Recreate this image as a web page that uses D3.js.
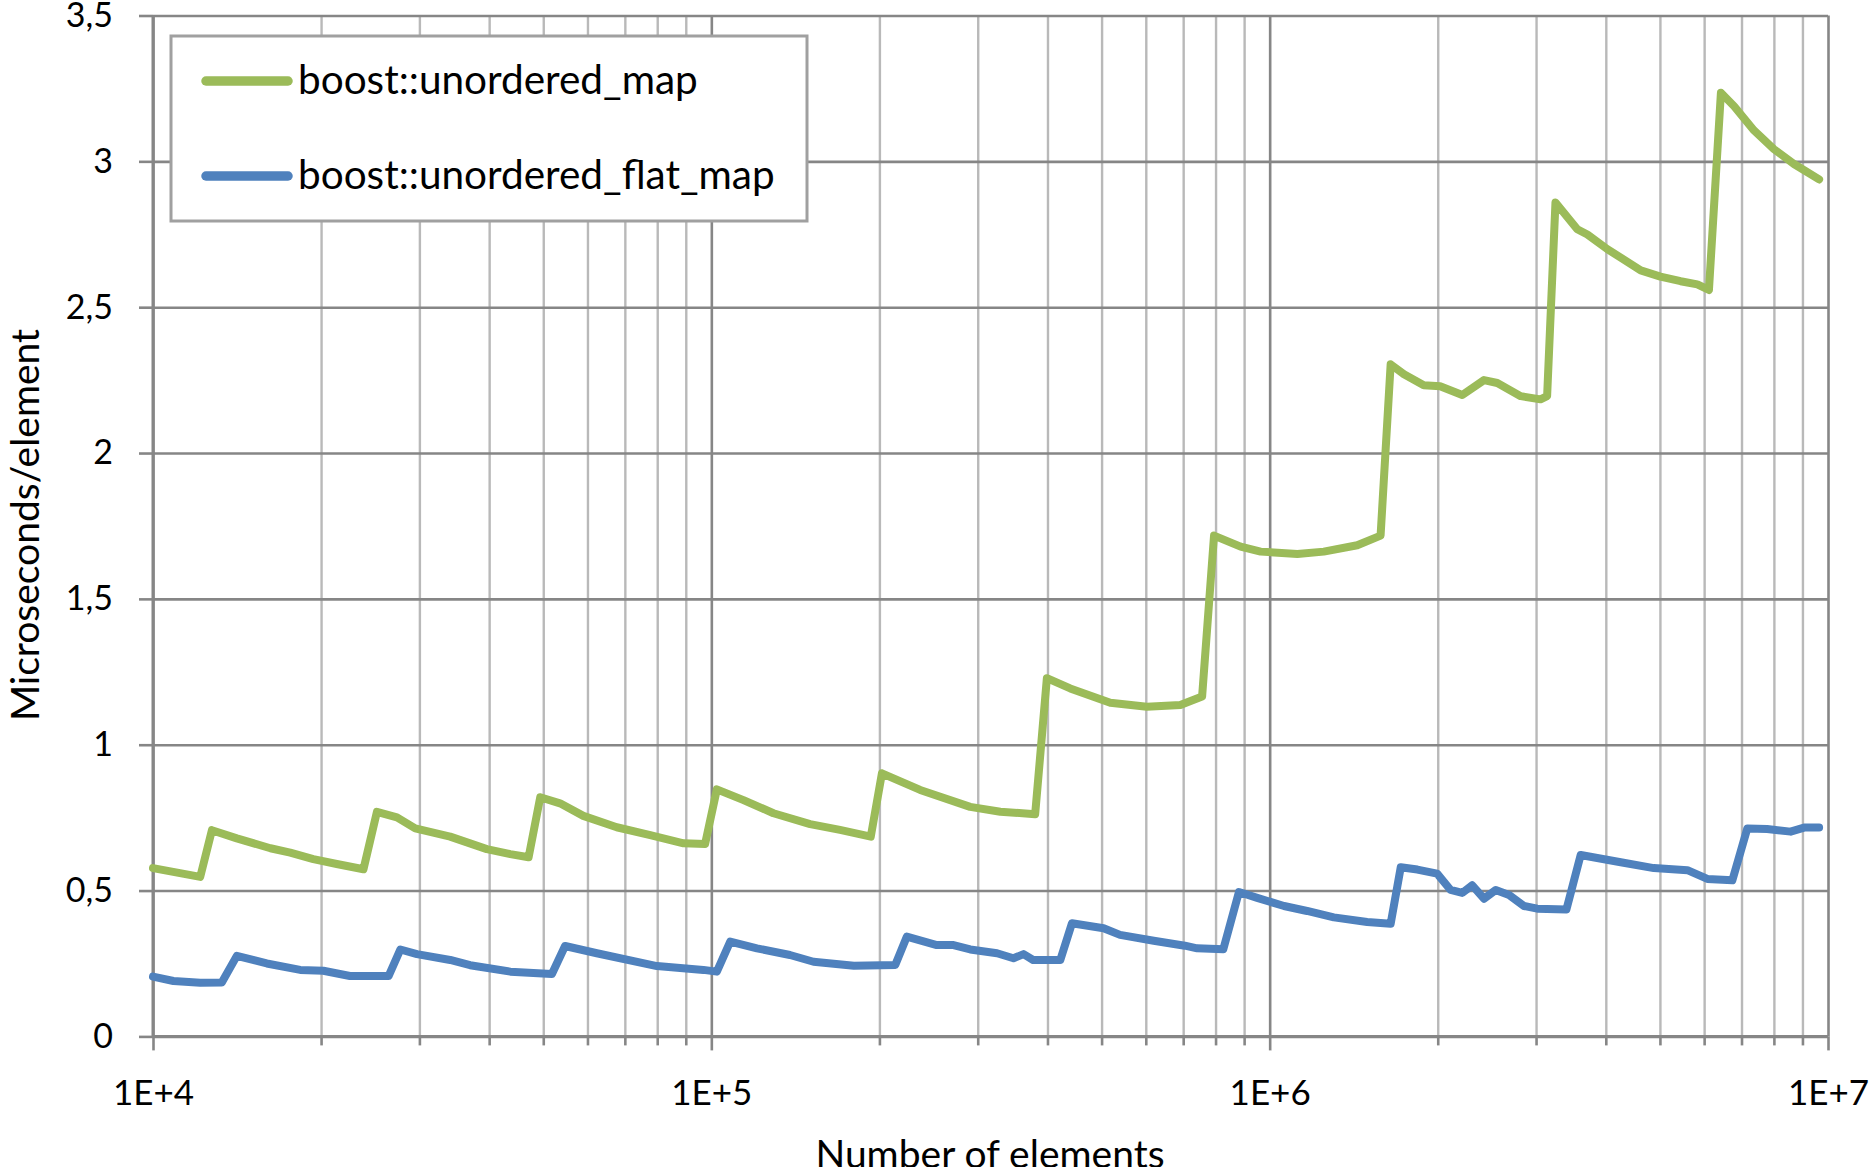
<!DOCTYPE html>
<html><head><meta charset="utf-8">
<script src="https://cdn.jsdelivr.net/npm/d3@7"></script>
<style>
body{margin:0;background:#fff}
svg{display:block}
text{font-family:Lato, "Open Sans", sans-serif; fill:#000}
</style>
</head><body>
<svg id="chart" width="1872" height="1167"></svg>
<script>
// ---- data ----
const mapN = [10000,12150,12750,14130,16230,17610,19370,21340,23820,25180,27350,29490,34060,39620,43650,47070,49380,53580,58980,67700,77730,89170,97470,102300,114200,129200,150300,170000,193000,202100,236600,290800,329300,380200,399000,439300,518300,602600,691800,756800,795000,887000,963500,1121000,1250000,1435000,1580000,1647000,1740000,1888000,2020000,2213000,2420000,2557000,2816000,3055000,3140000,3250000,3556000,3707000,4025000,4254000,4619000,5010000,5445000,5834000,6120000,6430000,6790000,7370000,8000000,8690000,9640000];
const mapV = [0.577,0.547,0.707,0.679,0.645,0.630,0.608,0.591,0.573,0.770,0.751,0.713,0.685,0.642,0.625,0.614,0.820,0.799,0.756,0.717,0.690,0.662,0.660,0.847,0.810,0.765,0.728,0.708,0.685,0.902,0.845,0.787,0.770,0.762,1.228,1.193,1.144,1.130,1.136,1.165,1.717,1.679,1.662,1.654,1.662,1.684,1.717,2.304,2.270,2.232,2.229,2.199,2.250,2.240,2.195,2.184,2.195,2.859,2.767,2.749,2.699,2.670,2.626,2.605,2.589,2.578,2.559,3.235,3.189,3.106,3.042,2.991,2.938];
const flatN = [10000,10880,12150,13280,14130,15990,18350,20190,22530,26420,27740,29700,34060,36980,43650,51820,54700,62370,79900,96800,102300,108100,120700,138300,152400,180000,213500,223900,253400,271500,290900,324900,347600,362400,377000,421700,442500,504200,539600,620000,705000,741300,826000,881000,950000,1061000,1167000,1303000,1495000,1647000,1717000,1839000,1995000,2109000,2213000,2306000,2420000,2540000,2684000,2854000,3015000,3400000,3606000,4254000,4875000,5600000,6080000,6740000,7170000,7780000,8570000,9060000,9640000];
const flatV = [0.205,0.190,0.184,0.185,0.276,0.250,0.228,0.225,0.207,0.207,0.298,0.282,0.262,0.244,0.222,0.214,0.310,0.285,0.241,0.228,0.222,0.325,0.302,0.279,0.256,0.242,0.245,0.342,0.313,0.313,0.298,0.285,0.268,0.282,0.262,0.262,0.388,0.371,0.348,0.328,0.311,0.302,0.299,0.495,0.475,0.447,0.430,0.408,0.392,0.386,0.580,0.572,0.558,0.502,0.492,0.518,0.472,0.502,0.485,0.447,0.438,0.435,0.622,0.597,0.577,0.570,0.540,0.535,0.713,0.711,0.702,0.716,0.716];
const seriesNames = ["boost::unordered_map","boost::unordered_flat_map"];
const seriesColors = ["#9BBB59","#4F81BD"];
const yTickValues = [0,0.5,1,1.5,2,2.5,3,3.5];
const yTickLabels = ["0","0,5","1","1,5","2","2,5","3","3,5"];
const xMajorValues = [1e4,1e5,1e6,1e7];
const xMajorLabels = ["1E+4","1E+5","1E+6","1E+7"];
const xTitle = "Number of elements";
const yTitle = "Microseconds/element";

// ---- layout ----
const L = 153, R = 1828, T = 15.5, B = 1036.4;
const svg = d3.select("#chart");
const x = d3.scaleLog().domain([1e4,1e7]).range([L,R]);
const y = d3.scaleLinear().domain([0,3.5]).range([B,T]);
const xMinor = x.ticks().filter(v => !xMajorValues.some(m => Math.abs(m - v) < 1e-6));

const gridDark = "#868686", gridLight = "#b9b9b9";

// minor vertical gridlines
svg.append("g").attr("transform",`translate(0,${B})`)
  .call(d3.axisBottom(x).tickValues(xMinor).tickSize(-(B-T)).tickFormat(""))
  .call(g => g.select(".domain").remove())
  .call(g => g.selectAll("line").attr("stroke",gridLight).attr("stroke-width",2.4));
// horizontal gridlines
svg.append("g").attr("transform",`translate(${L},0)`)
  .call(d3.axisLeft(y).tickValues(yTickValues).tickSize(-(R-L)).tickFormat(""))
  .call(g => g.select(".domain").remove())
  .call(g => g.selectAll("line").attr("stroke",gridDark).attr("stroke-width",2.6));
// decade vertical gridlines
svg.append("g").attr("transform",`translate(0,${B})`)
  .call(d3.axisBottom(x).tickValues(xMajorValues).tickSize(-(B-T)).tickFormat(""))
  .call(g => g.select(".domain").remove())
  .call(g => g.selectAll("line").attr("stroke",gridDark).attr("stroke-width",2.6));

// minor x ticks
svg.append("g").attr("transform",`translate(0,${B})`)
  .call(d3.axisBottom(x).tickValues(xMinor).tickSize(9).tickFormat(""))
  .call(g => g.select(".domain").remove())
  .call(g => g.selectAll("line").attr("stroke",gridDark).attr("stroke-width",2.6));
// major x axis
svg.append("g").attr("transform",`translate(0,${B})`)
  .call(d3.axisBottom(x).tickValues(xMajorValues).tickSize(14).tickPadding(30)
        .tickFormat((d,i) => xMajorLabels[i]))
  .call(g => g.select(".domain").attr("stroke",gridDark).attr("stroke-width",3).attr("d",`M${L},0H${R}`))
  .call(g => g.selectAll("line").attr("stroke",gridDark).attr("stroke-width",2.6))
  .call(g => g.selectAll("text").attr("font-size",35).attr("font-family","Lato").attr("fill","#000"));
// y axis
svg.append("g").attr("transform",`translate(${L},0)`)
  .call(d3.axisLeft(y).tickValues(yTickValues).tickSize(14).tickPadding(26)
        .tickFormat((d,i) => yTickLabels[i]))
  .call(g => g.select(".domain").attr("stroke",gridDark).attr("stroke-width",3).attr("d",`M0,${T}V${B}`))
  .call(g => g.selectAll("line").attr("stroke",gridDark).attr("stroke-width",2.6))
  .call(g => g.selectAll("text").attr("font-size",34).attr("font-family","Lato").attr("fill","#000"));

// series
const line = d3.line().x(d => x(d[0])).y(d => y(d[1]));
const seriesData = [d3.zip(mapN, mapV), d3.zip(flatN, flatV)];
svg.append("g").selectAll("path").data(seriesData).join("path")
  .attr("d", line).attr("fill","none")
  .attr("stroke",(d,i) => seriesColors[i]).attr("stroke-width",8)
  .attr("stroke-linejoin","round").attr("stroke-linecap","round");

// legend
const lg = svg.append("g");
lg.append("rect").attr("x",171).attr("y",36).attr("width",636).attr("height",185)
  .attr("fill","#fff").attr("stroke","#a0a0a0").attr("stroke-width",3);
const rows = [81, 176];
seriesNames.forEach((name,i) => {
  lg.append("line").attr("x1",206).attr("x2",288).attr("y1",rows[i]).attr("y2",rows[i])
    .attr("stroke",seriesColors[i]).attr("stroke-width",9.5).attr("stroke-linecap","round");
  lg.append("text").attr("x",298).attr("y",rows[i]+13).attr("font-size",40.5).text(name);
});

// axis titles
svg.append("text").attr("x",990).attr("y",1168).attr("text-anchor","middle")
  .attr("font-size",39).text(xTitle);
svg.append("text").attr("transform","translate(39,525) rotate(-90)").attr("text-anchor","middle")
  .attr("font-size",39).text(yTitle);
</script>
</body></html>
